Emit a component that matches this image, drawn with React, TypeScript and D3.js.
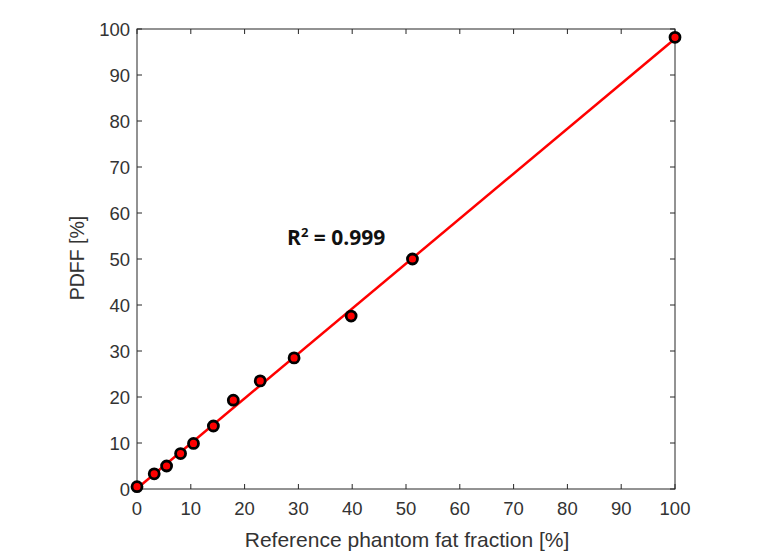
import React from "react";
import * as d3 from "d3";

// reference fat fraction (x) vs measured PDFF (y), both in %
const refFF = [0, 3.2, 5.5, 8.1, 10.5, 14.2, 17.9, 22.9, 29.2, 39.8, 51.2, 100];
const pdff = [0.5, 3.3, 5.0, 7.7, 9.9, 13.7, 19.3, 23.5, 28.5, 37.6, 50.0, 98.2];
const xTicks = [0, 10, 20, 30, 40, 50, 60, 70, 80, 90, 100];
const yTicks = [0, 10, 20, 30, 40, 50, 60, 70, 80, 90, 100];

const W = 781;
const H = 560;
const left = 137;
const right = 675;
const top = 29;
const bottom = 489;
const axisCol = "#262626";

const App = () => {
  const x = d3.scaleLinear().domain([0, 100]).range([left, right]);
  const y = d3.scaleLinear().domain([0, 100]).range([bottom, top]);

  // least squares fit
  const mx = d3.mean(refFF) as number;
  const my = d3.mean(pdff) as number;
  const slope =
    d3.sum(refFF, (v, i) => (v - mx) * (pdff[i] - my)) /
    d3.sum(refFF, (v) => (v - mx) * (v - mx));
  const icpt = my - slope * mx;
  const fit = d3
    .line<number>()
    .x((d) => x(d))
    .y((d) => y(icpt + slope * d));

  const tl = 5;

  return (
    <div style={{ position: "absolute", left: 0, top: 0 }}>
      <svg width={W} height={H} style={{ display: "block", background: "#fff" }}>
        {/* box */}
        <rect
          x={left}
          y={top}
          width={right - left}
          height={bottom - top}
          fill="none"
          stroke={axisCol}
          strokeWidth={1}
        />
        {/* x ticks, inward on both sides */}
        {xTicks.map((t) => (
          <g key={"x" + t}>
            <line x1={x(t)} x2={x(t)} y1={bottom} y2={bottom - tl} stroke={axisCol} />
            <line x1={x(t)} x2={x(t)} y1={top} y2={top + tl} stroke={axisCol} />
            <text
              x={x(t)}
              y={bottom + 26}
              textAnchor="middle"
              fontFamily="Liberation Sans, Arial, sans-serif"
              fontSize={18.5}
              fill="#333"
            >
              {t}
            </text>
          </g>
        ))}
        {yTicks.map((t) => (
          <g key={"y" + t}>
            <line x1={left} x2={left + tl} y1={y(t)} y2={y(t)} stroke={axisCol} />
            <line x1={right} x2={right - tl} y1={y(t)} y2={y(t)} stroke={axisCol} />
            <text
              x={left - 7}
              y={y(t) + 6.5}
              textAnchor="end"
              fontFamily="Liberation Sans, Arial, sans-serif"
              fontSize={18.5}
              fill="#333"
            >
              {t}
            </text>
          </g>
        ))}
        {/* fit line */}
        <path d={fit([0, 100]) || ""} fill="none" stroke="#ff0000" strokeWidth={2.5} />
        {/* points */}
        {refFF.map((v, i) => (
          <circle
            key={i}
            cx={x(v)}
            cy={y(pdff[i])}
            r={5}
            fill="#ff0000"
            stroke="#000"
            strokeWidth={2.8}
          />
        ))}
        <text
          x={287}
          y={245}
          fontFamily="Open Sans, sans-serif"
          fontWeight="bold"
          fontSize={21}
          fill="#111"
        >
          R
          <tspan fontSize={13} dy={-8}>
            2
          </tspan>
          <tspan dy={8}> = 0.999</tspan>
        </text>
        <text
          x={407}
          y={547}
          textAnchor="middle"
          fontFamily="Liberation Sans, Arial, sans-serif"
          fontSize={21}
          fill="#333"
        >
          Reference phantom fat fraction [%]
        </text>
        <text
          transform={`translate(84,${(top + bottom) / 2 - 1}) rotate(-90)`}
          textAnchor="middle"
          fontFamily="Liberation Sans, Arial, sans-serif"
          fontSize={19.5}
          fill="#333"
        >
          PDFF [%]
        </text>
      </svg>
    </div>
  );
};

export default App;
